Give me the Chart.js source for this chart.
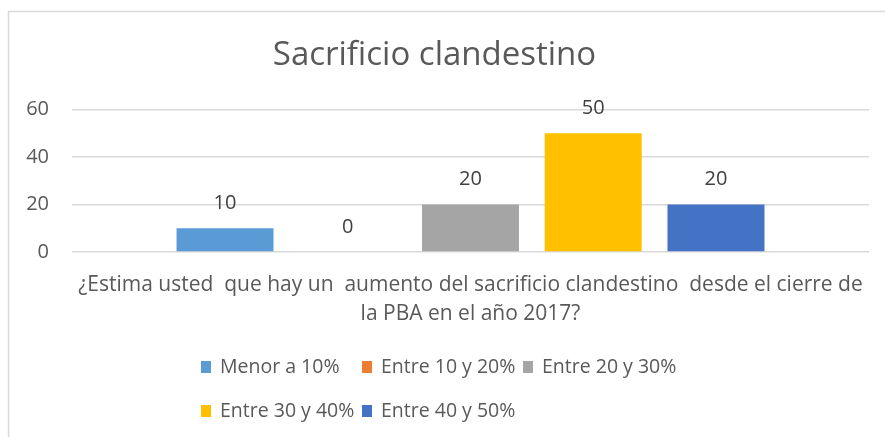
<!DOCTYPE html>
<html>
<head>
<meta charset="utf-8">
<script src="https://cdn.jsdelivr.net/npm/chart.js@4/dist/chart.umd.min.js"></script>
<style>
  html, body { margin: 0; padding: 0; background: #fff; overflow: hidden; }
  #wrap { width: 885px; height: 437px; position: relative; }
</style>
</head>
<body>
<div id="wrap"><canvas id="chart" width="885" height="437"></canvas></div>
<script>
const categories = [
  ['¿Estima usted  que hay un  aumento del sacrificio clandestino  desde el cierre de', 'la PBA en el año 2017?']
];
const seriesNames  = ['Menor a 10%', 'Entre 10 y 20%', 'Entre 20 y 30%', 'Entre 30 y 40%', 'Entre 40 y 50%'];
const seriesValues = [[10], [0], [20], [50], [20]];
const seriesColors = ['#5B9BD5', '#ED7D31', '#A5A5A5', '#FFC000', '#4472C4'];
const yTicks = [0, 20, 40, 60];

const FONT = "'Open Sans', sans-serif";
const TEXT = '#595959';

// light frame, only left and top edges show in the crop
const framePlugin = {
  id: 'frame',
  beforeDraw(chart) {
    const ctx = chart.ctx;
    ctx.save();
    ctx.strokeStyle = '#d9d9d9';
    ctx.lineWidth = 1.5;
    ctx.beginPath();
    ctx.moveTo(8.5, chart.height);
    ctx.lineTo(8.5, 11.5);
    ctx.lineTo(chart.width, 11.5);
    ctx.stroke();
    ctx.restore();
  }
};

const valueLabels = {
  id: 'valueLabels',
  afterDatasetsDraw(chart) {
    const ctx = chart.ctx;
    ctx.save();
    ctx.font = '20px ' + FONT;
    ctx.fillStyle = '#404040';
    ctx.textAlign = 'center';
    ctx.textBaseline = 'middle';
    chart.data.datasets.forEach((ds, i) => {
      chart.getDatasetMeta(i).data.forEach((bar, j) => {
        ctx.fillText(String(ds.data[j]), bar.x, bar.y - 25);
      });
    });
    ctx.restore();
  }
};

// Excel-like legend: fixed grid of three columns, rows left aligned
const gridLegend = {
  id: 'gridLegend',
  afterDraw(chart) {
    const ctx = chart.ctx;
    ctx.save();
    ctx.font = '19.5px ' + FONT;
    ctx.textBaseline = 'middle';
    ctx.textAlign = 'left';
    chart.data.datasets.forEach((ds, i) => {
      const x = 201 + (i % 3) * 161;
      const y = 367 + Math.floor(i / 3) * 44;
      ctx.fillStyle = ds.backgroundColor;
      ctx.fillRect(x, y - 6, 10, 12);
      ctx.fillStyle = TEXT;
      ctx.fillText(ds.label, x + 19, y);
    });
    ctx.restore();
  }
};

new Chart(document.getElementById('chart'), {
  type: 'bar',
  data: {
    labels: categories,
    datasets: seriesNames.map((name, i) => ({
      label: name,
      data: seriesValues[i],
      backgroundColor: seriesColors[i],
      categoryPercentage: 0.77,
      barPercentage: 0.79
    }))
  },
  options: {
    responsive: false,
    animation: false,
    devicePixelRatio: 1,
    layout: { padding: { left: 0, right: 16, top: 0, bottom: 0 } },
    plugins: {
      legend: { display: false },
      tooltip: { enabled: false },
      title: {
        display: true,
        text: 'Sacrificio clandestino',
        color: TEXT,
        font: { family: FONT, size: 33, weight: 'normal', lineHeight: 1.2 },
        padding: { top: 36, bottom: 34 }
      }
    },
    scales: {
      x: {
        grid: { display: false, drawTicks: false },
        border: { display: false },
        ticks: {
          color: TEXT,
          font: { family: FONT, size: 21, lineHeight: 1.35 },
          padding: 19,
          maxRotation: 0,
          autoSkip: false
        },
        afterFit(scale) {
          scale.height = 185;
          // the long question label must not shrink the plot area
          scale.paddingLeft = 0;
          scale.paddingRight = 0;
        }
      },
      y: {
        min: 0,
        max: 60,
        afterBuildTicks(scale) { scale.ticks = yTicks.map(v => ({ value: v })); },
        grid: { color: '#d9d9d9', lineWidth: 1.5, drawTicks: false },
        border: { display: false },
        ticks: {
          color: TEXT,
          font: { family: FONT, size: 20 },
          padding: 23
        },
        afterFit(scale) { scale.width = 72; }
      }
    }
  },
  plugins: [framePlugin, valueLabels, gridLegend]
});
</script>
</body>
</html>
